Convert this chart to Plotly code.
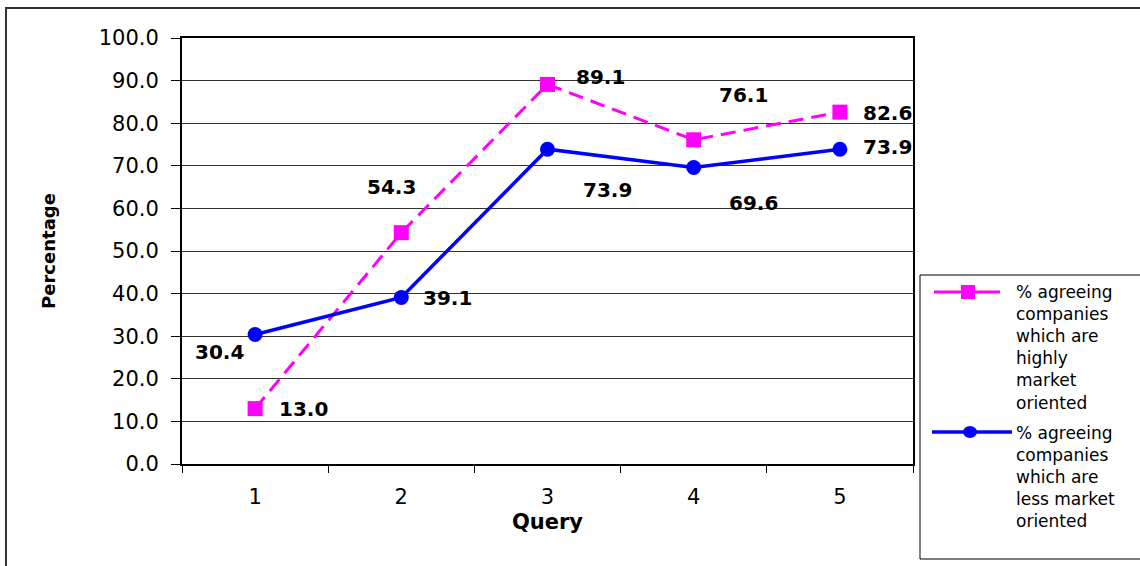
import plotly.graph_objects as go

# Survey results per query
queries = ["1", "2", "3", "4", "5"]
highly_oriented = [13.0, 54.3, 89.1, 76.1, 82.6]
less_oriented = [30.4, 39.1, 73.9, 69.6, 73.9]

legend_high = "% agreeing<br>companies<br>which are<br>highly<br>market<br>oriented"
legend_less = "% agreeing<br>companies<br>which are<br>less market<br>oriented"

# Label offsets (pixels) for each value label
high_shift = [(48, 0), (-10, 46), (53, 7), (50, 45), (48, -1)]
less_shift = [(-36, -17), (46, -1), (60, -41), (60, -35), (48, 2)]

PINK = "#FF00FF"
BLUE = "#0000FF"
FONT = "DejaVu Sans"

W, H = 1140, 566
ML, MR, MT, MB = 182, 227, 38, 102
PW, PH = W - ML - MR, H - MT - MB


def px(x):
    return (x - ML) / PW


def py(y):
    return (H - MB - y) / PH


fig = go.Figure()
fig.add_trace(go.Scatter(
    x=queries, y=highly_oriented, mode="lines+markers",
    name="% agreeing companies which are highly market oriented",
    line=dict(color=PINK, width=3, dash="15px,8px"),
    marker=dict(symbol="square", size=15, color=PINK),
    showlegend=False,
))
fig.add_trace(go.Scatter(
    x=queries, y=less_oriented, mode="lines+markers",
    name="% agreeing companies which are less market oriented",
    line=dict(color=BLUE, width=3.5),
    marker=dict(symbol="circle", size=15, color=BLUE),
    showlegend=False,
))

label_font = dict(family=FONT, size=20, color="black", weight="bold")
annotations = []
# value labels: x given as category index on the category axis
for i, (v, (dx, dy)) in enumerate(zip(highly_oriented, high_shift)):
    annotations.append(dict(x=i, y=v, xref="x", yref="y", text=f"{v:.1f}",
                            showarrow=False, xshift=dx, yshift=dy, font=label_font))
for i, (v, (dx, dy)) in enumerate(zip(less_oriented, less_shift)):
    annotations.append(dict(x=i, y=v, xref="x", yref="y", text=f"{v:.1f}",
                            showarrow=False, xshift=dx, yshift=dy, font=label_font))

# Legend text
for txt, top in [(legend_high, 280), (legend_less, 421)]:
    annotations.append(dict(x=px(1014), y=py(top), xref="paper", yref="paper",
                            xanchor="left", yanchor="top", align="left",
                            text=txt, showarrow=False,
                            font=dict(family=FONT, size=17, color="black")))

shapes = [
    # outer frame
    dict(type="rect", xref="paper", yref="paper",
         x0=px(6), y0=py(600), x1=px(1160), y1=py(8),
         line=dict(color="#333333", width=2), layer="below"),
    # legend box
    dict(type="rect", xref="paper", yref="paper",
         x0=px(920), y0=py(559), x1=px(1160), y1=py(275),
         line=dict(color="black", width=1), fillcolor="white"),
    # legend samples
    dict(type="line", xref="paper", yref="paper",
         x0=px(934), y0=py(292), x1=px(1000), y1=py(292),
         line=dict(color=PINK, width=3)),
    dict(type="rect", xref="paper", yref="paper",
         x0=px(961), y0=py(299), x1=px(975), y1=py(285),
         line=dict(color=PINK, width=0), fillcolor=PINK),
    dict(type="line", xref="paper", yref="paper",
         x0=px(932), y0=py(432), x1=px(1012), y1=py(432),
         line=dict(color=BLUE, width=3.5)),
    dict(type="circle", xref="paper", yref="paper",
         x0=px(963), y0=py(438), x1=px(977), y1=py(426),
         line=dict(color=BLUE, width=0), fillcolor=BLUE),
]

fig.update_layout(
    width=W, height=H,
    margin=dict(l=ML, r=MR, t=MT, b=MB, autoexpand=False),
    paper_bgcolor="white", plot_bgcolor="white",
    font=dict(family=FONT, color="black"),
    annotations=annotations,
    shapes=shapes,
    showlegend=False,
)

fig.update_xaxes(
    type="category", range=[-0.5, 4.5], tickson="boundaries",
    ticks="outside", ticklen=7, tickcolor="black", tickwidth=1,
    showline=True, linecolor="black", linewidth=2, mirror=True,
    showgrid=False, tickfont=dict(family=FONT, size=21, color="black"),
    ticklabelstandoff=13,
    title=dict(text="Query", standoff=6,
               font=dict(family=FONT, size=21, color="black", weight="bold")),
)
fig.update_yaxes(
    range=[0, 100], dtick=10, tickformat=".1f",
    ticks="outside", ticklen=9, tickcolor="black", tickwidth=1,
    showline=True, linecolor="black", linewidth=2, mirror=True,
    showgrid=True, gridcolor="#333333", gridwidth=1, zeroline=False,
    tickfont=dict(family=FONT, size=21, color="black"), ticklabelstandoff=8,
    title=dict(text="Percentage", standoff=38,
               font=dict(family=FONT, size=18, color="black", weight="bold")),
)

fig.write_html("out.html")
